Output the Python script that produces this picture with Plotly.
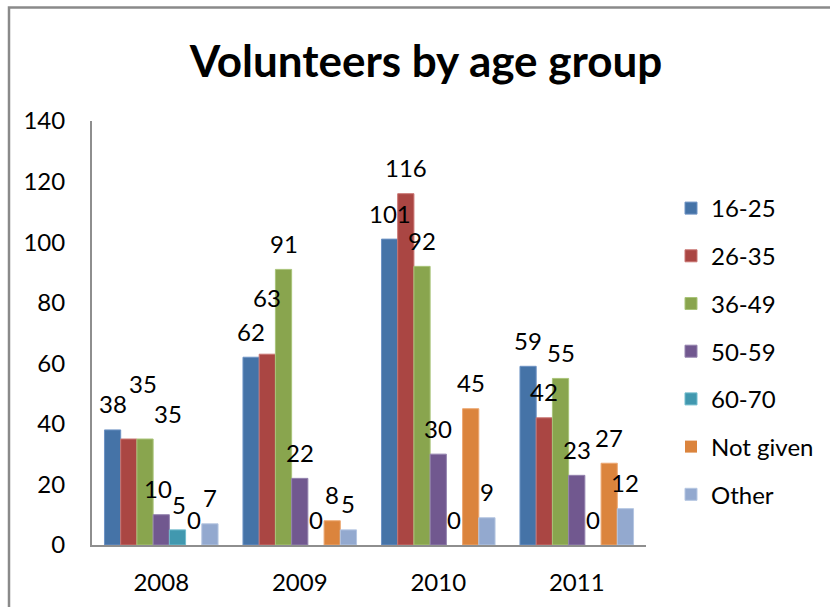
import plotly.graph_objects as go

# Volunteers per year, split by age group
years = ["2008", "2009", "2010", "2011"]
groups = ["16-25", "26-35", "36-49", "50-59", "60-70", "Not given", "Other"]
v_16_25 = [38, 62, 101, 59]
v_26_35 = [35, 63, 116, 42]
v_36_49 = [35, 91, 92, 55]
v_50_59 = [10, 22, 30, 23]
v_60_70 = [5, 0, 0, 0]
v_not_given = [0, 8, 45, 27]
v_other = [7, 5, 9, 12]
series = [v_16_25, v_26_35, v_36_49, v_50_59, v_60_70, v_not_given, v_other]

colors = ["#4573A7", "#AA4643", "#89A54E", "#71588F", "#4198AF", "#DB843D", "#93A9CF"]
edges = ["#6E93C4", "#C97572", "#A9C479", "#9483AE", "#72BCCD", "#EDA872", "#B5C6E2"]

# pixel nudges for a few data labels that sit out of line: (group, year) -> (dx, dy)
label_nudge = {(1, 0): (14, 56), (2, 0): (23, 26), (1, 1): (0, 57),
               (3, 0): (-3, 26), (4, 0): (2, 25)}

W, H = 830, 607
L, R, T, B = 92, 184, 121, 62
BARGAP = 0.18
FONT = "Lato, 'Open Sans', sans-serif"
FS = 24

fig = go.Figure()
n = len(groups)
bw = (1 - BARGAP) / n
xs = list(range(len(years)))
for j, (name, vals) in enumerate(zip(groups, series)):
    fig.add_trace(go.Bar(
        x=xs, y=vals, name=name, legendgroup=name,
        marker=dict(color=colors[j],
                    line=dict(color=edges[j], width=[1 if v else 0 for v in vals])),
        hoverinfo="x+y+name",
    ))
    for i, v in enumerate(vals):
        dx, dy = label_nudge.get((j, i), (0, 26))
        fig.add_annotation(
            x=i - (1 - BARGAP) / 2 + (j + 0.5) * bw, y=v, xref="x", yref="y",
            text=str(v), showarrow=False, xanchor="center", yanchor="middle",
            xshift=dx, yshift=dy, font=dict(family=FONT, size=FS, color="#000"),
        )

pw, ph = W - L - R, H - T - B
px = lambda p: (p - L) / pw
py = lambda p: (H - B - p) / ph

# outer chart frame (left and top edges visible)
fig.add_shape(type="path", xref="paper", yref="paper",
              path=f"M {px(9)} {py(W)} L {px(9)} {py(7.5)} L {px(W + 50)} {py(7.5)}",
              line=dict(color="#8A8A8A", width=2.5), layer="above")

fig.update_layout(
    width=W, height=H,
    margin=dict(l=L, r=R, t=T, b=B, autoexpand=False),
    paper_bgcolor="white", plot_bgcolor="white",
    barmode="group", bargap=BARGAP, bargroupgap=0,
    title=dict(text="<b>Volunteers by age group</b>", x=426 / W, xref="container",
               xanchor="center", y=1 - 62 / H, yref="container", yanchor="middle",
               font=dict(family=FONT, size=44, color="#000")),
    font=dict(family=FONT, size=FS, color="#000"),
    xaxis=dict(range=[-0.5, len(years) - 0.5], tickvals=xs, ticktext=years,
               showline=True, linecolor="#8E8E8E", linewidth=2, showgrid=False,
               zeroline=False, ticks="", ticklabelstandoff=15,
               tickfont=dict(family=FONT, size=FS, color="#000")),
    yaxis=dict(range=[0, 140], tickvals=list(range(0, 141, 20)),
               showline=True, linecolor="#8E8E8E", linewidth=2, showgrid=False,
               zeroline=False, ticks="", ticklabelstandoff=20,
               tickfont=dict(family=FONT, size=FS, color="#000")),
    legend=dict(x=px(671), xanchor="left", y=py(186), yanchor="top",
                font=dict(family=FONT, size=FS, color="#000"),
                tracegroupgap=13.5, bgcolor="rgba(0,0,0,0)", traceorder="grouped"),
    showlegend=True,
)

fig.write_html("out.html")
